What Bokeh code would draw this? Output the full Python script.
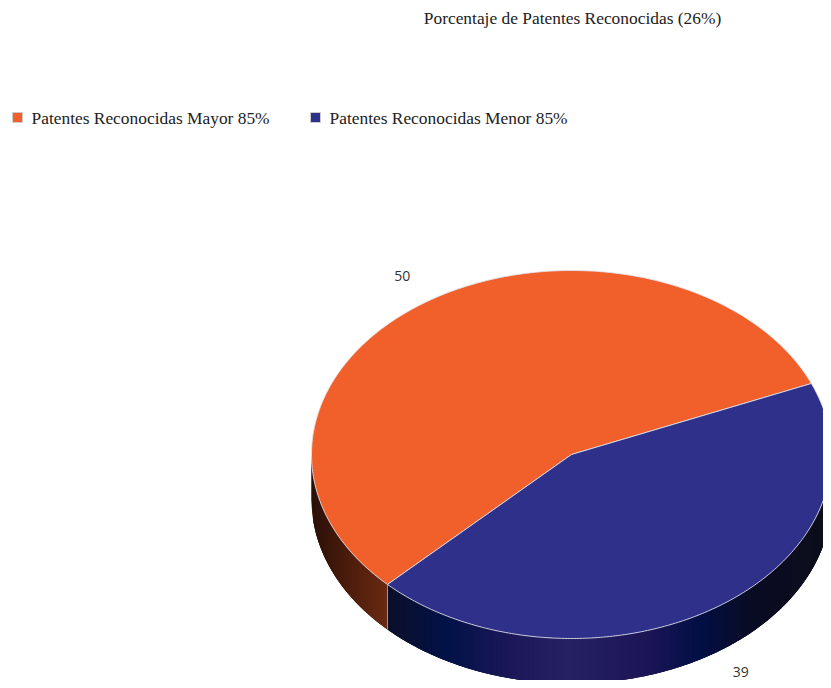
import numpy as np
from bokeh.plotting import figure
from bokeh.models import Range1d
from bokeh.core.properties import value
from bokeh.embed import file_html
from bokeh.resources import INLINE

# ---------------- data ----------------
title_text = "Porcentaje de Patentes Reconocidas (26%)"
categories = ["Patentes Reconocidas Mayor 85%", "Patentes Reconocidas Menor 85%"]
values = [50, 39]
slice_colors = ["#F15F2A", "#2E3089"]

# ---------------- layout / style ----------------
W, H = 823, 680
CX, CY = 571.0, 454.0      # centre of top ellipse (picture pixels)
RX, RY = 260.0, 184.0      # radii of top ellipse
DEPTH = 45.0               # height of the 3D side
START = np.deg2rad(22.7)   # angle where the first slice starts (counter-clockwise)
LABEL_K = 1.17
LABEL_MAX_Y = 671.0        # keep labels inside the canvas
STRIP_PX = 2.0             # horizontal width of the shading strips

# shading stops for the side walls (t along the slice's horizontal extent)
side_stops = [
    [(0.0, "#2a1008"), (0.5, "#4d1d0c"), (1.0, "#6b2a13")],
    [(0.0, "#0b0f2a"), (0.135, "#021248"), (0.284, "#1d1858"), (0.405, "#262262"),
     (0.586, "#1c1556"), (0.705, "#020f45"), (0.818, "#0a0c24"), (1.0, "#0d0d1a")],
]
side_base = ["#4a1c0c", "#120f3a"]

SERIF = value("Liberation Serif")
SANS = value("Open Sans")

p = figure(width=W, height=H, x_range=Range1d(0, W), y_range=Range1d(H, 0),
           output_backend="svg", toolbar_location=None,
           x_axis_location=None, y_axis_location=None, min_border=0)
p.outline_line_color = None
p.grid.visible = False
p.background_fill_color = "white"


def hex2rgb(h):
    h = h.lstrip("#")
    return np.array([int(h[i:i + 2], 16) for i in (0, 2, 4)], dtype=float)


def interp_color(stops, t):
    t = min(max(t, 0.0), 1.0)
    for (t0, c0), (t1, c1) in zip(stops[:-1], stops[1:]):
        if t0 <= t <= t1:
            f = 0 if t1 == t0 else (t - t0) / (t1 - t0)
            c = hex2rgb(c0) * (1 - f) + hex2rgb(c1) * f
            return "#%02x%02x%02x" % tuple(int(round(v)) for v in c)
    return stops[-1][1]


def ex(th, k=1.0):
    return CX + k * RX * np.cos(th)


def ey(th, k=1.0):
    return CY - k * RY * np.sin(th)


total = float(sum(values))
bounds = [START]
for v in values:
    bounds.append(bounds[-1] + 2 * np.pi * v / total)

# ---- side walls (front half only) ----
for i, (a0, a1) in enumerate(zip(bounds[:-1], bounds[1:])):
    segs = []
    for lo_w, hi_w in [(np.pi, 2 * np.pi), (3 * np.pi, 4 * np.pi)]:
        lo, hi = max(a0, lo_w), min(a1, hi_w)
        if hi > lo:
            segs.append((lo - lo_w + np.pi, hi - lo_w + np.pi))
    for lo, hi in segs:
        xa, xb = ex(lo), ex(hi)
        n = max(2, int(np.ceil((xb - xa) / STRIP_PX)))
        xq = np.linspace(xa, xb, n + 1)
        th = 2 * np.pi - np.arccos(np.clip((xq - CX) / RX, -1, 1))
        th[0], th[-1] = lo, hi
        # solid underlay for the whole side band
        fine = np.linspace(lo, hi, 400)
        p.patch(list(ex(fine)) + list(ex(fine[::-1])),
                list(ey(fine)) + list(ey(fine[::-1]) + DEPTH),
                fill_color=side_base[i], line_color=None)
        xs, ys, cols = [], [], []
        for j in range(n):
            t0 = th[j]
            t1 = th[min(j + 2, n)]          # overlap into the next strip
            tmid = th[j + 1]
            x0, x1 = ex(t0), ex(t1)
            y0, y1 = ey(t0), ey(t1)
            ym = ey(tmid)
            xmid = ex(tmid)
            xs.append([x0, xmid, x1, x1, xmid, x0])
            ys.append([y0, ym, y1, y1 + DEPTH, ym + DEPTH, y0 + DEPTH])
            tm = ((ex(th[j]) + ex(th[j + 1])) / 2 - xa) / (xb - xa) if xb > xa else 0
            cols.append(interp_color(side_stops[i], tm))
        p.patches(xs, ys, fill_color=cols, line_color=None)

# seam lines on the side at slice boundaries in the front
for b in bounds:
    if np.sin(b) < 0:
        p.segment(x0=[ex(b)], y0=[ey(b)], x1=[ex(b)], y1=[ey(b) + DEPTH],
                  line_color="#b8b8c8", line_width=1, line_alpha=0.8)

# ---- top faces ----
tops_x, tops_y = [], []
for a0, a1 in zip(bounds[:-1], bounds[1:]):
    th = np.linspace(a0, a1, 240)
    tops_x.append([CX] + list(ex(th)))
    tops_y.append([CY] + list(ey(th)))
p.patches(tops_x, tops_y, fill_color=slice_colors, line_color="#e4e4ee",
          line_width=1, line_alpha=0.85)

# ---- value labels ----
lx, ly = [], []
for a0, a1 in zip(bounds[:-1], bounds[1:]):
    m = (a0 + a1) / 2
    lx.append(ex(m, LABEL_K))
    ly.append(min(LABEL_MAX_Y, ey(m, LABEL_K) + (DEPTH if np.sin(m) < 0 else 0)))
p.text(x=lx, y=ly, text=[str(v) for v in values], text_font=SANS,
       text_font_size="14px", text_color="#333333", text_align="center",
       text_baseline="middle")

# ---- title ----
p.text(x=[572], y=[17], text=[title_text], text_font=SERIF, text_font_size="17.4px",
       text_color="#222222", text_align="center", text_baseline="middle")

# ---- legend ----
leg_x = [17, 315]
leg_y = [117, 117]
p.rect(x=leg_x, y=leg_y, width=10, height=10, fill_color=slice_colors,
       line_color="#cccccc", line_width=1)
p.text(x=[x + 14 for x in leg_x], y=leg_y, text=categories, text_font=SERIF,
       text_font_size="17.4px", text_color="#222222", text_align="left",
       text_baseline="middle")

open("out.html", "w").write(file_html(p, INLINE))
